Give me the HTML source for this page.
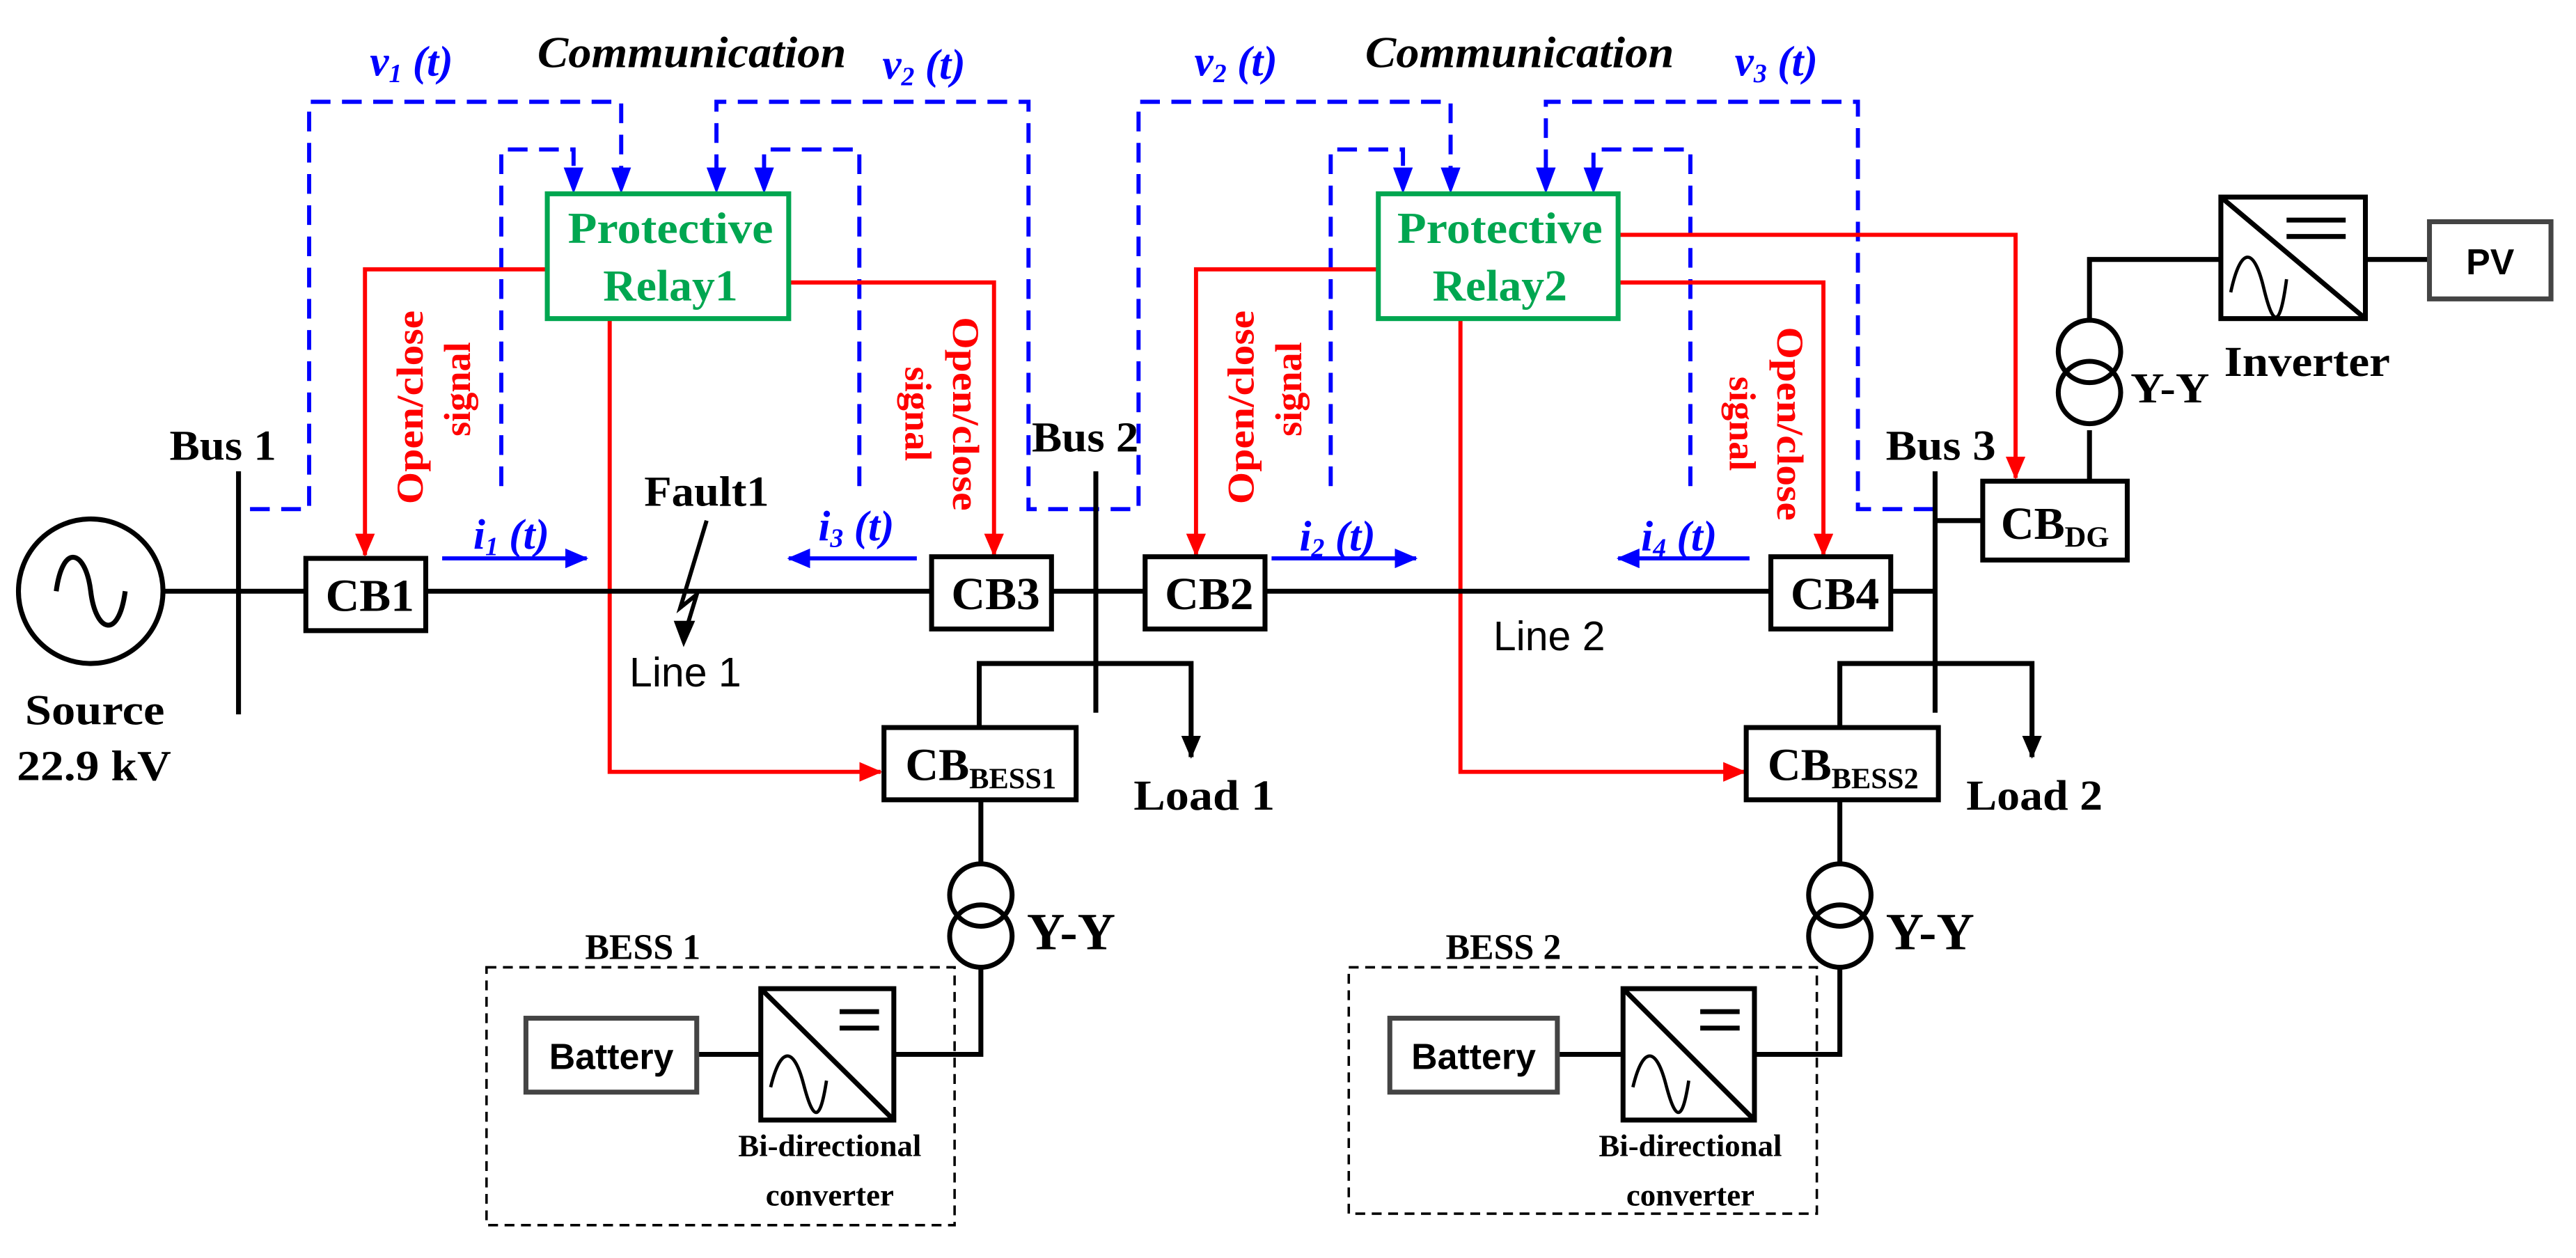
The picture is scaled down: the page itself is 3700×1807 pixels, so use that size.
<!DOCTYPE html>
<html><head><meta charset="utf-8"><style>html,body{margin:0;padding:0;background:#fff}svg{display:block}</style></head><body>
<svg width="3700" height="1807" viewBox="0 0 1568 766" xmlns="http://www.w3.org/2000/svg" font-family="'Liberation Serif', serif">
<defs>
<marker id="ar" markerWidth="14" markerHeight="12" refX="13" refY="6" orient="auto" markerUnits="userSpaceOnUse"><path d="M0,0 L14,6 L0,12 z" fill="#ff0000"/></marker>
<marker id="ak" markerWidth="14" markerHeight="12" refX="13" refY="6" orient="auto" markerUnits="userSpaceOnUse"><path d="M0,0 L14,6 L0,12 z" fill="#000"/></marker>
<marker id="abl" markerWidth="14" markerHeight="12" refX="13" refY="6" orient="auto" markerUnits="userSpaceOnUse"><path d="M0,0 L14,6 L0,12 z" fill="#0000ff"/></marker>
</defs>

<g font-weight="bold" font-style="italic" font-size="27">
<text x="327" y="41" textLength="188" lengthAdjust="spacingAndGlyphs">Communication</text>
<text x="831" y="41" textLength="188" lengthAdjust="spacingAndGlyphs">Communication</text>
</g>
<g font-weight="bold" font-style="italic" font-size="26" fill="#0000ff">
<text x="225" y="46">v<tspan font-size="16" dy="4">1</tspan><tspan dy="-4"> (t)</tspan></text>
<text x="537" y="48">v<tspan font-size="16" dy="4">2</tspan><tspan dy="-4"> (t)</tspan></text>
<text x="727" y="46">v<tspan font-size="16" dy="4">2</tspan><tspan dy="-4"> (t)</tspan></text>
<text x="1056" y="46">v<tspan font-size="16" dy="4">3</tspan><tspan dy="-4"> (t)</tspan></text>
<text x="288" y="334">i<tspan font-size="16" dy="4">1</tspan><tspan dy="-4"> (t)</tspan></text>
<text x="498" y="329">i<tspan font-size="16" dy="4">3</tspan><tspan dy="-4"> (t)</tspan></text>
<text x="791" y="335">i<tspan font-size="16" dy="4">2</tspan><tspan dy="-4"> (t)</tspan></text>
<text x="999" y="335">i<tspan font-size="16" dy="4">4</tspan><tspan dy="-4"> (t)</tspan></text>
</g>

<g fill="none" stroke="#0000ff" stroke-width="2.5" stroke-dasharray="12,7">
<path d="M152,310 H188 V62 H378 V106"/>
<path d="M305,296 V91 H349 V106"/>
<path d="M436,106 V62 H626 V310 H693 V62 H883 V106"/>
<path d="M523,296 V91 H465 V106"/>
<path d="M810,296 V91 H854 V106"/>
<path d="M1177,310 H1131 V62 H941 V106"/>
<path d="M1029,296 V91 H970 V106"/>
</g>
<g fill="#0000ff">
<path d="M343,102 L355,102 L349,118 z"/><path d="M372,102 L384,102 L378,118 z"/>
<path d="M430,102 L442,102 L436,118 z"/><path d="M459,102 L471,102 L465,118 z"/>
<path d="M877,102 L889,102 L883,118 z"/><path d="M848,102 L860,102 L854,118 z"/>
<path d="M935,102 L947,102 L941,118 z"/><path d="M964,102 L976,102 L970,118 z"/>
</g>

<g stroke="#0000ff" stroke-width="2.5" fill="none">
<path d="M269,340 H357" marker-end="url(#abl)"/>
<path d="M558,340 H480" marker-end="url(#abl)"/>
<path d="M774,340 H862" marker-end="url(#abl)"/>
<path d="M1065,340 H985" marker-end="url(#abl)"/>
</g>

<g stroke="#ff0000" stroke-width="2.5" fill="none">
<path d="M333,164 H222 V338" marker-end="url(#ar)"/>
<path d="M480,172 H605 V338" marker-end="url(#ar)"/>
<path d="M371,194 V470 H536" marker-end="url(#ar)"/>
<path d="M839,164 H728 V338" marker-end="url(#ar)"/>
<path d="M985,143 H1227 V291" marker-end="url(#ar)"/>
<path d="M985,172 H1110 V338" marker-end="url(#ar)"/>
<path d="M889,194 V470 H1062" marker-end="url(#ar)"/>
</g>
<g fill="#ff0000" font-weight="bold" font-size="23" text-anchor="middle">
<text transform="translate(257,248) rotate(-90)" textLength="118" lengthAdjust="spacingAndGlyphs">Open/close</text>
<text transform="translate(286,237) rotate(-90)">signal</text>
<text transform="translate(580,252) rotate(90)" textLength="118" lengthAdjust="spacingAndGlyphs">Open/close</text>
<text transform="translate(551,252) rotate(90)">signal</text>
<text transform="translate(763,248) rotate(-90)" textLength="118" lengthAdjust="spacingAndGlyphs">Open/close</text>
<text transform="translate(792,237) rotate(-90)">signal</text>
<text transform="translate(1082,258) rotate(90)" textLength="118" lengthAdjust="spacingAndGlyphs">Open/close</text>
<text transform="translate(1053,258) rotate(90)">signal</text>
</g>

<g fill="#fff" stroke="#00a650" stroke-width="3">
<rect x="333" y="118" width="147" height="76"/>
<rect x="839" y="118" width="146" height="76"/>
</g>
<g fill="#00a650" font-weight="bold" font-size="27" text-anchor="middle">
<text x="408" y="148" textLength="125" lengthAdjust="spacingAndGlyphs">Protective</text><text x="408" y="183" textLength="82" lengthAdjust="spacingAndGlyphs">Relay1</text>
<text x="913" y="148" textLength="125" lengthAdjust="spacingAndGlyphs">Protective</text><text x="913" y="183" textLength="82" lengthAdjust="spacingAndGlyphs">Relay2</text>
</g>

<g stroke="#000" stroke-width="3" fill="none">
<circle cx="55" cy="360" r="44"/>
<path d="M34,360 C38,330 52,335 55,360 S72,390 76,360"/>
<path d="M99,360 H1178"/>
<path d="M145,287 V435"/>
<path d="M667,287 V434"/>
<path d="M1178,287 V434"/>
<path d="M1178,317 H1207"/>
<path d="M596,443 V404 H725 V461" marker-end="url(#ak)"/>
<path d="M1120,443 V404 H1237 V461" marker-end="url(#ak)"/>
<path d="M1272,293 V262 M1272,194 V158 H1352 M1440,158 H1479"/>
<circle cx="1272" cy="214" r="19"/><circle cx="1272" cy="239" r="19"/>
<path d="M597,487 V526 M597,589 V642 H544 M463,642 H424"/>
<circle cx="597" cy="545" r="19"/><circle cx="597" cy="570" r="19"/>
<path d="M1120,487 V526 M1120,589 V642 H1068 M988,642 H948"/>
<circle cx="1120" cy="545" r="19"/><circle cx="1120" cy="570" r="19"/>
</g>
<path d="M430,317 L414,370 L424,362 L417,385" stroke="#000" stroke-width="2.5" fill="none"/>
<path d="M410,378 L416,394 L423,378 z" fill="#000"/>

<g fill="#fff" stroke="#000" stroke-width="3">
<rect x="186" y="340" width="73" height="44"/>
<rect x="567" y="339" width="73" height="44"/>
<rect x="697" y="339" width="73" height="44"/>
<rect x="1078" y="339" width="73" height="44"/>
<rect x="1207" y="293" width="88" height="48"/>
<rect x="538" y="443" width="117" height="44"/>
<rect x="1063" y="443" width="117" height="44"/>
</g>
<g font-weight="bold" font-size="28" text-anchor="middle">
<text x="225" y="372" textLength="54" lengthAdjust="spacingAndGlyphs">CB1</text>
<text x="606" y="371" textLength="54" lengthAdjust="spacingAndGlyphs">CB3</text>
<text x="736" y="371" textLength="54" lengthAdjust="spacingAndGlyphs">CB2</text>
<text x="1117" y="371" textLength="54" lengthAdjust="spacingAndGlyphs">CB4</text>
<text x="1251" y="328">CB<tspan font-size="18" dy="5">DG</tspan></text>
<text x="597" y="475">CB<tspan font-size="18" dy="5">BESS1</tspan></text>
<text x="1122" y="475">CB<tspan font-size="18" dy="5">BESS2</tspan></text>
</g>

<g font-weight="bold" font-size="26">
<text x="103" y="280" textLength="65" lengthAdjust="spacingAndGlyphs">Bus 1</text>
<text x="628" y="275" textLength="65" lengthAdjust="spacingAndGlyphs">Bus 2</text>
<text x="1148" y="280" textLength="67" lengthAdjust="spacingAndGlyphs">Bus 3</text>
<text x="392" y="308" textLength="76" lengthAdjust="spacingAndGlyphs">Fault1</text>
<text x="690" y="493" textLength="86" lengthAdjust="spacingAndGlyphs">Load 1</text>
<text x="1197" y="493" textLength="83" lengthAdjust="spacingAndGlyphs">Load 2</text>
<text x="15" y="441" textLength="85" lengthAdjust="spacingAndGlyphs">Source</text>
<text x="10" y="475" textLength="94" lengthAdjust="spacingAndGlyphs">22.9 kV</text>
<text x="1354" y="229" textLength="101" lengthAdjust="spacingAndGlyphs">Inverter</text>
<text x="1297" y="245" textLength="48" lengthAdjust="spacingAndGlyphs">Y-Y</text>
<text x="625" y="578" font-size="32">Y-Y</text>
<text x="1148" y="578" font-size="32">Y-Y</text>
<text x="356" y="584" font-size="22">BESS 1</text>
<text x="880" y="584" font-size="22">BESS 2</text>
</g>
<g font-family="'Liberation Sans', sans-serif" font-size="25">
<text x="383" y="418">Line 1</text>
<text x="909" y="396">Line 2</text>
</g>

<g fill="none" stroke="#000" stroke-width="1.5" stroke-dasharray="6,4">
<rect x="296" y="589" width="285" height="157"/>
<rect x="821" y="589" width="285" height="150"/>
</g>
<g fill="#fff" stroke="#444" stroke-width="3">
<rect x="320" y="620" width="104" height="45"/>
<rect x="846" y="620" width="102" height="45"/>
<rect x="1479" y="135" width="74" height="47"/>
</g>
<g font-weight="bold" font-size="22" text-anchor="middle" font-family="'Liberation Sans', sans-serif">
<text x="372" y="651">Battery</text><text x="897" y="651">Battery</text>
<text x="1516" y="167">PV</text>
</g>
<g font-weight="bold" font-size="19" text-anchor="middle">
<text x="505" y="704">Bi-directional</text><text x="505" y="734">converter</text>
<text x="1029" y="704">Bi-directional</text><text x="1029" y="734">converter</text>
</g>

<g fill="#fff" stroke="#000" stroke-width="3">
<g transform="translate(463,602)"><rect width="81" height="80"/><path d="M0,0 L81,80 M48,14 H72 M48,24 H72" fill="none"/><path d="M6,60 C12,35 20,35 26,58 S36,82 40,56" fill="none" stroke-width="2"/></g>
<g transform="translate(988,602)"><rect width="80" height="80"/><path d="M0,0 L80,80 M47,14 H71 M47,24 H71" fill="none"/><path d="M6,60 C12,35 20,35 26,58 S36,82 40,56" fill="none" stroke-width="2"/></g>
<g transform="translate(1352,120)"><rect width="88" height="74"/><path d="M0,0 L88,74 M40,14 H76 M40,24 H76" fill="none"/><path d="M6,58 C12,30 20,30 26,55 S36,80 40,50" fill="none" stroke-width="2"/></g>
</g>
</svg>
</body></html>
